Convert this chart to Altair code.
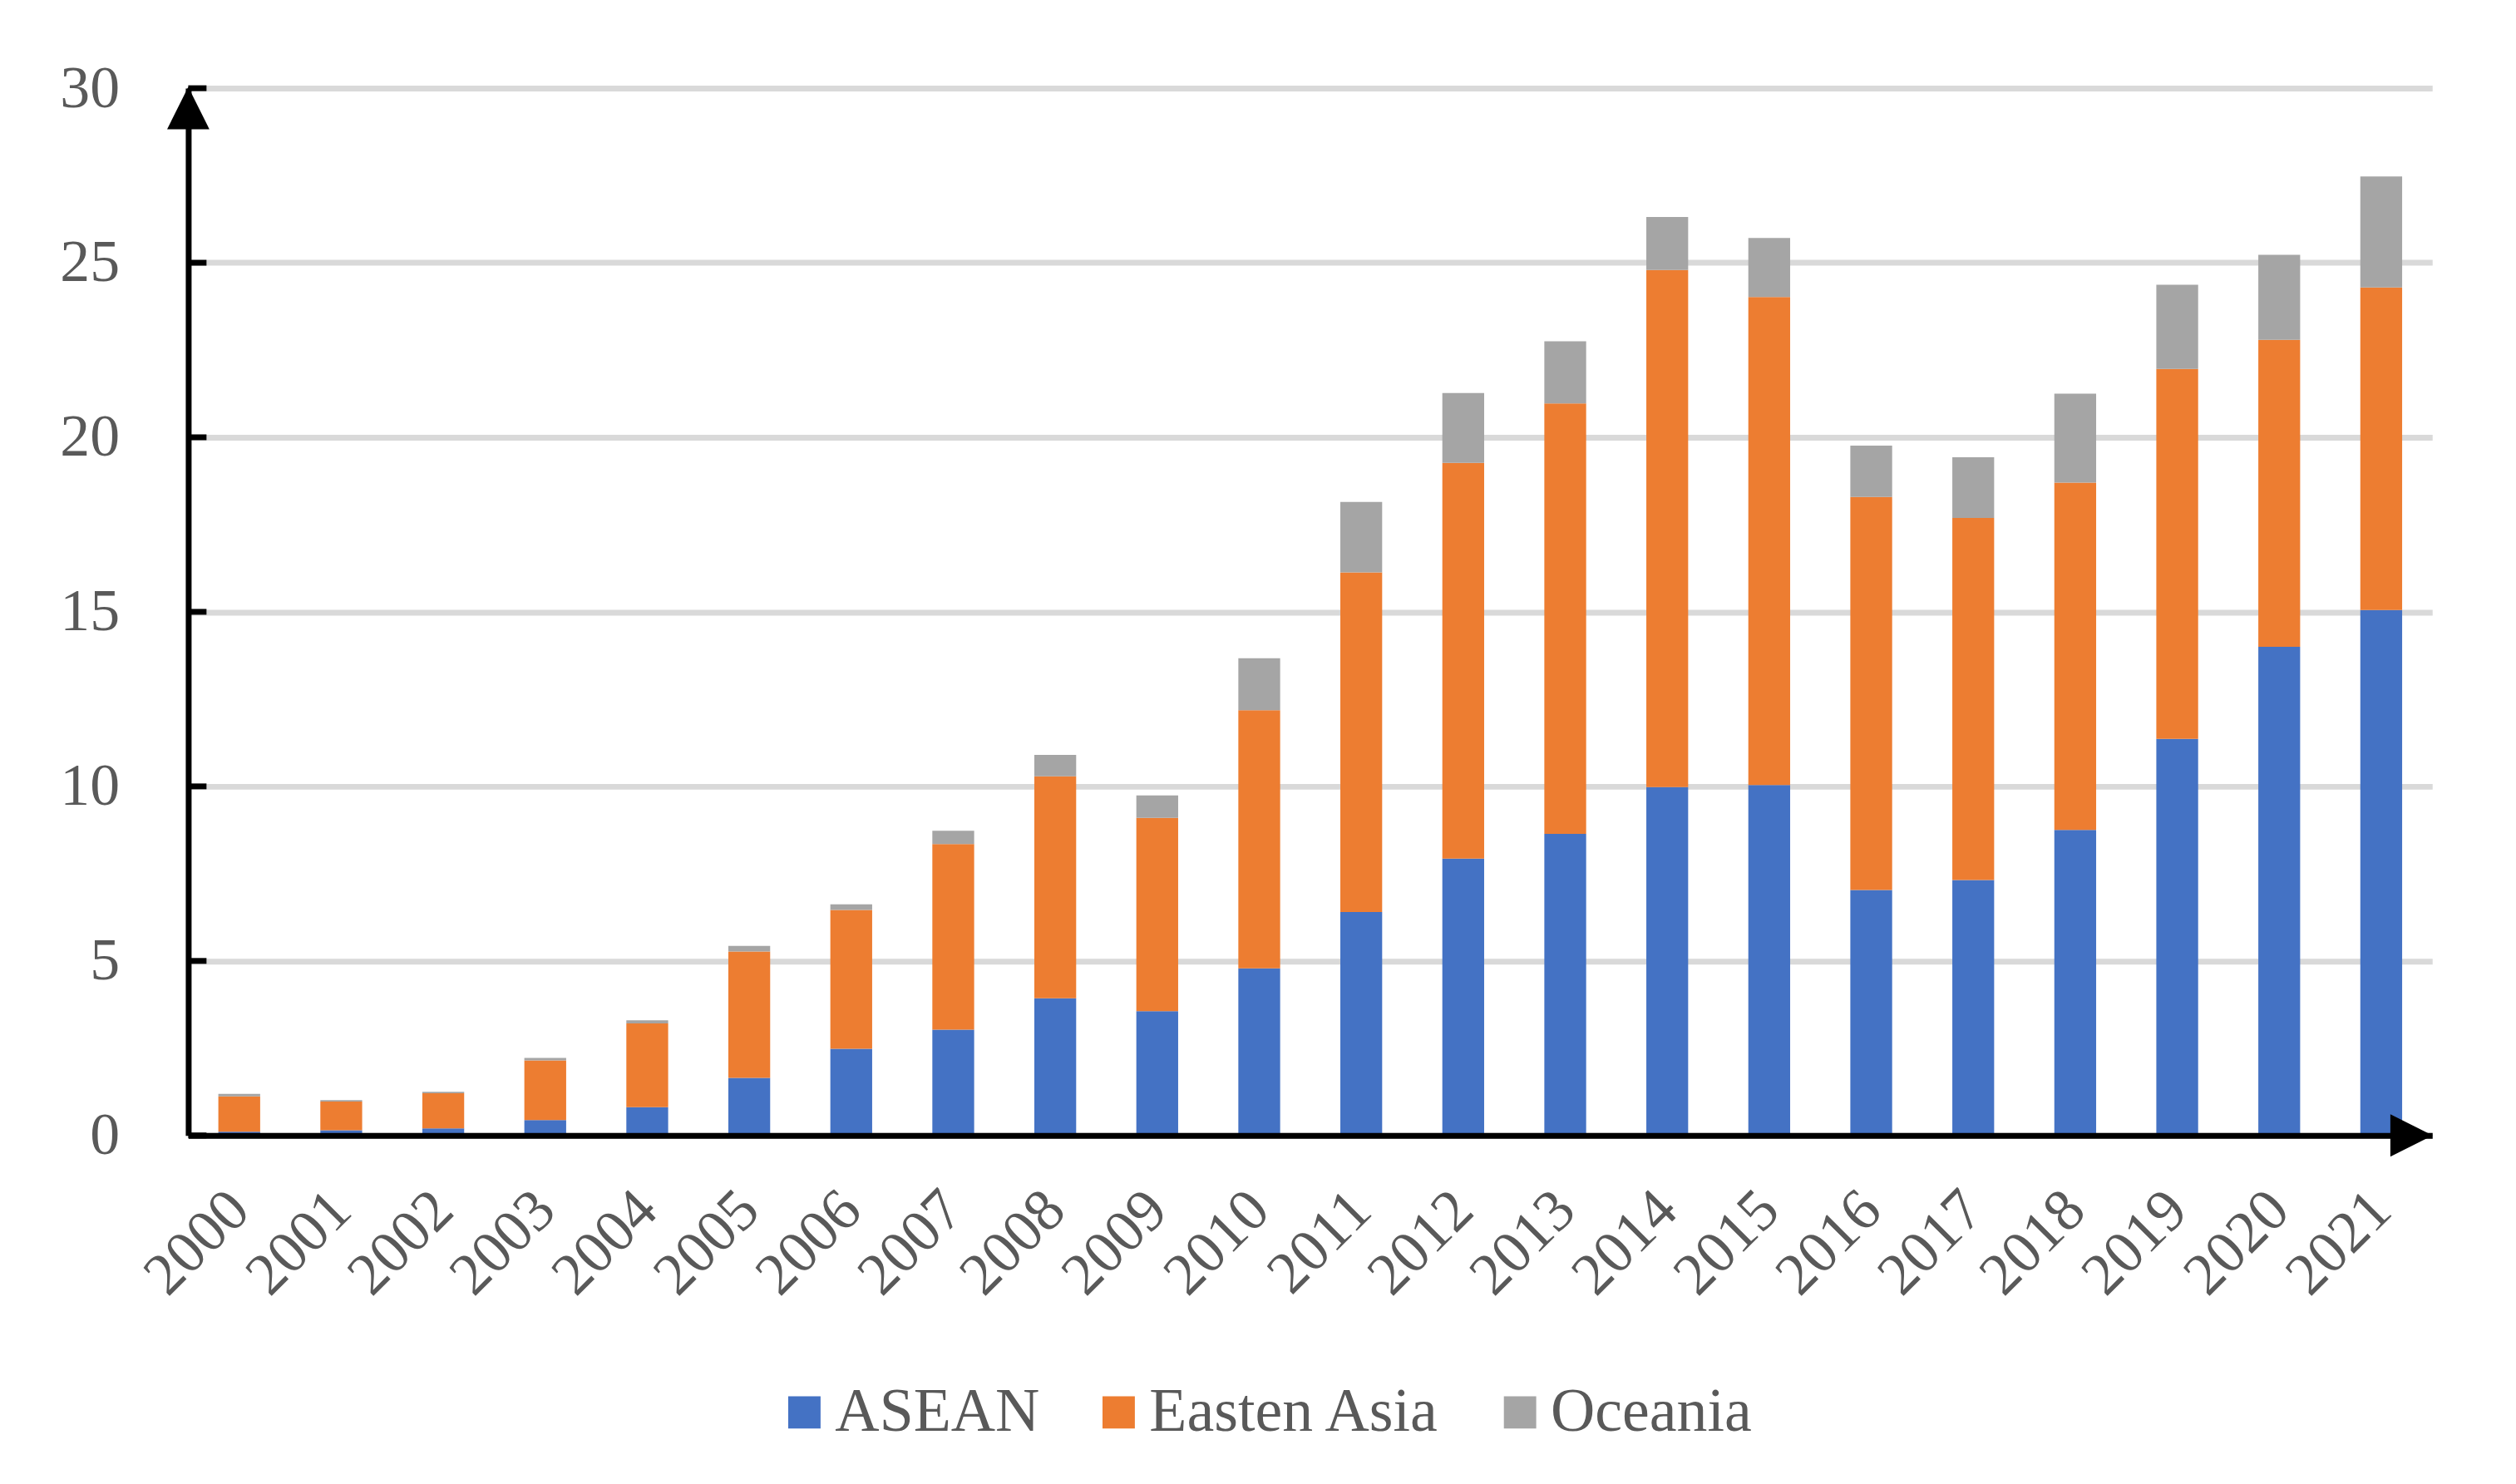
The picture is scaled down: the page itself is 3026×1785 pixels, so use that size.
import altair as alt
import pandas as pd

years = [str(y) for y in range(2000, 2022)]
asean = [0.11, 0.15, 0.20, 0.44, 0.81, 1.65, 2.48, 3.03, 3.93, 3.56, 4.79,
         6.40, 7.93, 8.64, 9.98, 10.04, 7.03, 7.32, 8.75, 11.36, 14.00, 15.05]
easten_asia = [1.01, 0.82, 1.01, 1.71, 2.40, 3.62, 3.98, 5.32, 6.36, 5.54, 7.39,
               9.73, 11.34, 12.33, 14.81, 13.98, 11.26, 10.37, 9.95, 10.60, 8.79, 9.24]
oceania = [0.07, 0.04, 0.04, 0.07, 0.09, 0.16, 0.16, 0.38, 0.61, 0.64, 1.49,
           2.02, 2.00, 1.78, 1.52, 1.69, 1.47, 1.74, 2.55, 2.41, 2.44, 3.18]
series = ["ASEAN", "Easten Asia", "Oceania"]
colors = ["#4472C4", "#ED7D31", "#A5A5A5"]
y_ticks = [0, 5, 10, 15, 20, 25, 30]

rows = []
for i, y in enumerate(years):
    for k, (name, vals) in enumerate(zip(series, [asean, easten_asia, oceania])):
        rows.append({"year": y, "series": name, "value": vals[i], "order": k})
df = pd.DataFrame(rows)
ticks_df = pd.DataFrame({"t": y_ticks})

FONT = "Liberation Serif"
W, H = 2706, 1263

bars = alt.Chart(df).mark_bar().encode(
    x=alt.X("year:N", sort=years,
            scale=alt.Scale(paddingInner=0.59, paddingOuter=0.295),
            axis=alt.Axis(title=None, labelAngle=315, labelAlign="right",
                          labelBaseline="middle", labelPadding=78,
                          labelFont=FONT, labelFontSize=72, labelColor="#595959",
                          ticks=False, domainColor="#000000", domainWidth=7,
                          grid=False, zindex=1)),
    y=alt.Y("value:Q", stack="zero",
            scale=alt.Scale(domain=[0, 30], nice=False),
            axis=alt.Axis(title=None, values=y_ticks, labelPadding=83,
                          labelFont=FONT, labelFontSize=72, labelColor="#595959",
                          ticks=False, domainColor="#000000", domainWidth=7,
                          grid=True, gridColor="#D9D9D9", gridWidth=7)),
    color=alt.Color("series:N", scale=alt.Scale(domain=series, range=colors),
                    legend=alt.Legend(title=None, orient="none", direction="horizontal",
                                      legendX=706, legendY=1560,
                                      symbolType="square", symbolSize=1521,
                                      symbolStrokeWidth=0, labelFont=FONT,
                                      labelFontSize=74, labelColor="#595959",
                                      labelOffset=0, columnPadding=58,
                                      labelLimit=1000)),
    order=alt.Order("order:Q", sort="ascending"),
)

tick_rules = alt.Chart(ticks_df).mark_rule(color="#000000", strokeWidth=7).encode(
    y=alt.Y("t:Q", scale=alt.Scale(domain=[0, 30], nice=False)),
    x=alt.value(0),
    x2=alt.value(22),
)

y_arrow = alt.Chart(ticks_df.head(1)).mark_point(
    shape="M-1,1L0,-1L1,1Z", filled=True, color="#000000", size=2601, opacity=1
).encode(x=alt.value(0), y=alt.value(24))

x_arrow = alt.Chart(ticks_df.head(1)).mark_point(
    shape="M-1,-1L1,0L-1,1Z", filled=True, color="#000000", size=2601, opacity=1
).encode(x=alt.value(W - 25), y=alt.value(H))

chart = alt.layer(bars, tick_rules, y_arrow, x_arrow).properties(
    width=W, height=H,
    background="white",
    padding={"left": 219, "top": 96, "right": 93, "bottom": 418},
    autosize=alt.AutoSizeParams(type="none"),
).configure_view(stroke=None)

chart.save("out.html", embed_options={"renderer": "svg", "actions": False})
